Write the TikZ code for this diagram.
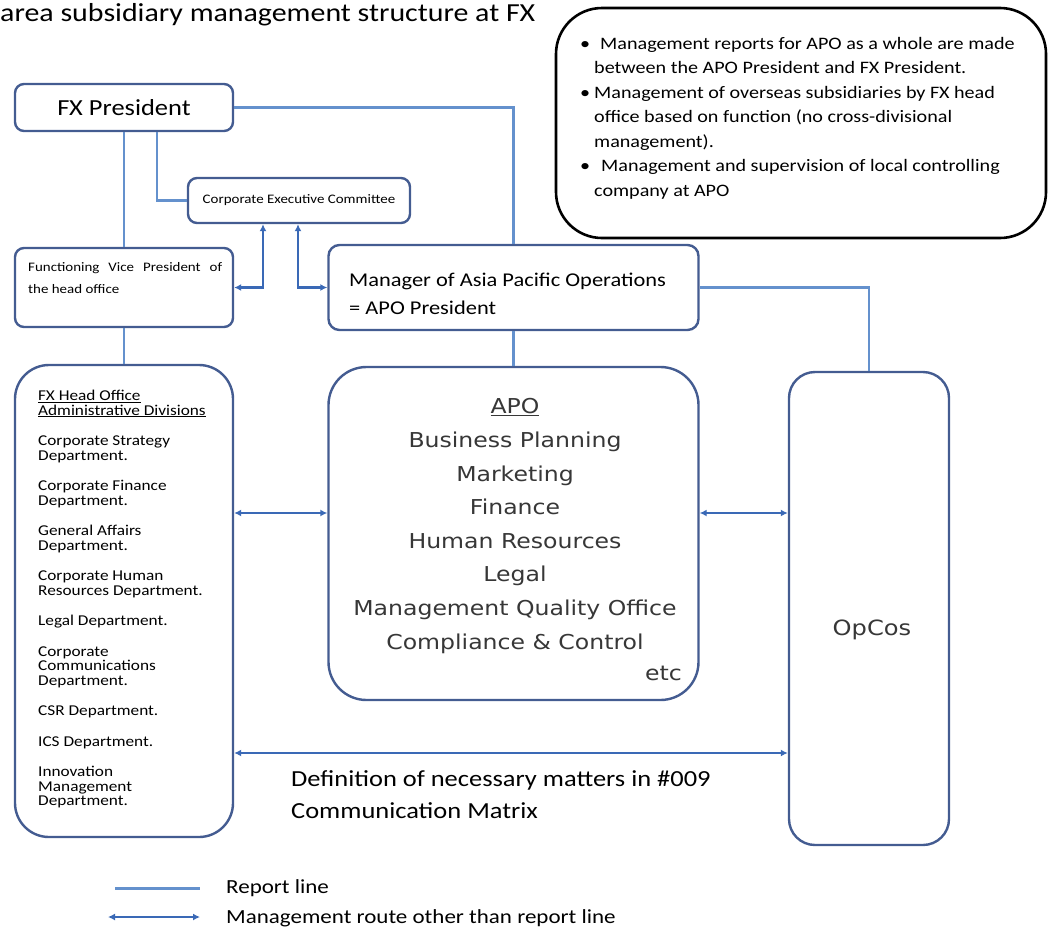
\documentclass[tikz,border=0pt]{standalone}
\usepackage{fontspec}
\setmainfont{Carlito}[FakeStretch=1.15]
\newfontfamily\apofont{DejaVu Sans}[FakeStretch=1.15]
\usetikzlibrary{arrows.meta}
\definecolor{boxline}{RGB}{68,92,145}
\definecolor{reportline}{RGB}{100,145,205}
\definecolor{mgmtline}{RGB}{58,105,182}
\definecolor{apotext}{RGB}{55,55,55}
\tikzset{
    every node/.style={inner sep=0pt},
    box/.style={rectangle, rounded corners=9pt, draw=boxline, line width=2.4pt, fill=white},
    notebox/.style={rectangle, rounded corners=46pt, draw=black, line width=2.6pt},
    report/.style={draw=reportline, line width=2.2pt},
    mgmt/.style={draw=mgmtline, line width=2.2pt, {Latex[length=7pt,width=7pt]}-{Latex[length=7pt,width=7pt]}}
}

\begin{document}
\begin{tikzpicture}[x=1pt, y=-1pt]
    \useasboundingbox (0,0) rectangle (1048,945);

    \node (title) [anchor=base west, font=\fontsize{26}{30}\selectfont] at (0, 21) {area subsidiary management structure at FX};

    % boxes
    \node (notes) [notebox, minimum width=490pt, minimum height=230pt] at (801, 123) {};
    \node (fxpres) [box, minimum width=218pt, minimum height=47pt, font=\fontsize{23}{26}\selectfont] at (124, 107.5) {FX President\hspace{24pt}};
    \node (cec) [box, minimum width=222pt, minimum height=45pt, font=\fontsize{13}{15}\selectfont] at (299, 200.5) {Corporate Executive Committee};
    \node (vicepres) [box, minimum width=218pt, minimum height=79pt] at (124, 287.5) {};
    \node (apomgr) [box, rounded corners=11pt, minimum width=370pt, minimum height=85pt] at (513.5, 287.5) {};
    \node (apo) [box, rounded corners=38pt, minimum width=370pt, minimum height=333pt] at (513.5, 533.5) {};
    \node (hqdiv) [box, rounded corners=34pt, minimum width=218pt, minimum height=472pt] at (124, 601) {};
    \node (opcos) [box, rounded corners=26pt, minimum width=160pt, minimum height=473pt] at (869, 608.5) {};

    % texts
    \node (notestext) [anchor=north west, align=left, font=\fontsize{17.5}{24.5}\selectfont] at (580, 37) {%
        \textbullet\hspace{10pt}Management reports for APO as a whole are made\\
        \hspace{14pt}between the APO President and FX President.\\
        \textbullet\hspace{4pt}Management of overseas subsidiaries by FX head\\
        \hspace{14pt}office based on function (no cross-divisional\\
        \hspace{14pt}management).\\
        \textbullet\hspace{11pt}Management and supervision of local controlling\\
        \hspace{14pt}company at APO};
    \node (vptext) [anchor=north west, align=left, font=\fontsize{13}{22}\selectfont] at (28, 262) {%
        \makebox[194pt][s]{Functioning\hfill Vice\hfill President\hfill of}\\
        the head office};
    \node (mgrtext) [anchor=north west, align=left, font=\fontsize{19.5}{28}\selectfont] at (349, 273) {%
        Manager of Asia Pacific Operations\\
        = APO President};
    \node (apotext) [align=center, text=apotext, font=\apofont\fontsize{20.5}{33.6}\selectfont] at (515, 526) {%
        \underline{APO}\\
        Business Planning\\
        Marketing\\
        Finance\\
        Human Resources\\
        Legal\\
        Management Quality Office\\
        Compliance \& Control};
    \node (etc) [anchor=east, text=apotext, font=\apofont\fontsize{20.5}{24}\selectfont] at (682, 673) {etc};
    \node (hqtext) [anchor=north west, align=left, font=\fontsize{15}{14.5}\selectfont] at (38, 390) {%
        \underline{FX Head Office}\\
        \underline{Administrative Divisions}\\[16pt]
        Corporate Strategy\\
        Department.\\[16pt]
        Corporate Finance\\
        Department.\\[16pt]
        General Affairs\\
        Department.\\[16pt]
        Corporate Human\\
        Resources Department.\\[16pt]
        Legal Department.\\[16pt]
        Corporate\\
        Communications\\
        Department.\\[16pt]
        CSR Department.\\[16pt]
        ICS Department.\\[16pt]
        Innovation\\
        Management\\
        Department.};
    \node (opcostext) [text=apotext, font=\apofont\fontsize{21}{24}\selectfont] at (872, 630) {OpCos};
    \node (deftext) [anchor=north west, align=left, font=\fontsize{23}{32}\selectfont] at (291, 770) {%
        Definition of necessary matters in \#009\\
        Communication Matrix};

    % report lines
    \draw [report] (fxpres.east) -| (apomgr.north);
    \draw [report] (fxpres.south) -- (vicepres.north);
    \draw [report] ([xshift=33pt]fxpres.south) |- (cec.west);
    \draw [report] (vicepres.south) -- (hqdiv.north);
    \draw [report] (apomgr.south) -- (apo.north);
    \draw [report] (apomgr.east) -| (opcos.north);

    % management routes
    \coordinate (midrow) at (0, 513);
    \coordinate (lowrow) at (0, 753);
    \draw [mgmt] ([xshift=-36pt]cec.south) |- (vicepres.east);
    \draw [mgmt] ([xshift=-1pt]cec.south) |- (apomgr.west);
    \draw [mgmt] (hqdiv.east |- midrow) -- (apo.west |- midrow);
    \draw [mgmt] (apo.east |- midrow) -- (opcos.west |- midrow);
    \draw [mgmt] (hqdiv.east |- lowrow) -- (opcos.west |- lowrow);

    % legend
    \coordinate (rep1) at (115, 888);
    \coordinate (rep2) at (200, 888);
    \coordinate (man1) at (108, 917);
    \coordinate (man2) at (200, 917);
    \draw [report, line width=3pt] (rep1) -- (rep2);
    \draw [mgmt] (man1) -- (man2);
    \node (replabel) [anchor=west, font=\fontsize{20}{24}\selectfont] at (226, 888) {Report line};
    \node (manlabel) [anchor=west, font=\fontsize{20}{24}\selectfont] at (226, 918) {Management route other than report line};
\end{tikzpicture}
\end{document}
